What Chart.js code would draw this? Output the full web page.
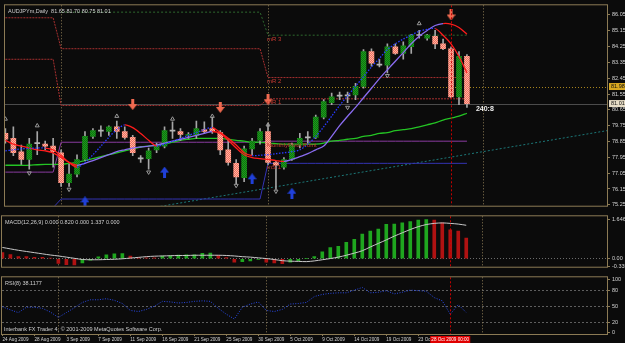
<!DOCTYPE html>
<html>
<head>
<meta charset="utf-8">
<title>AUDJPYm Daily</title>
<script src="https://cdn.jsdelivr.net/npm/chart.js@4.4.1/dist/chart.umd.min.js"></script>
<style>
  html, body { margin: 0; padding: 0; background: #0b0b0b; }
  #wrap { position: relative; width: 625px; height: 343px; overflow: hidden; background: #0b0b0b; }
  #wrap canvas { position: absolute; left: 0; }
</style>
</head>
<body>
<div id="wrap">
  <canvas id="priceChart" width="625" height="211" style="top:0px"></canvas>
  <canvas id="macdChart" width="625" height="61" style="top:211px"></canvas>
  <canvas id="rsiChart" width="625" height="71" style="top:272px"></canvas>
</div>
<script>
// values, one entry per daily bar
var dateTicks = [0, 4, 8, 12, 16, 20, 24, 28, 32, 36, 40, 44, 48, 52];
var dateLabels = ['24 Aug 2009', '28 Aug 2009', '3 Sep 2009', '7 Sep 2009', '11 Sep 2009', '16 Sep 2009', '21 Sep 2009',
  '25 Sep 2009', '30 Sep 2009', '5 Oct 2009', '9 Oct 2009', '14 Oct 2009', '19 Oct 2009', '23 Oct 2009'];
var priceTicks = [86.05, 85.15, 84.25, 83.35, 82.45, 81.55, 80.65, 79.75, 78.85, 77.95, 77.05, 76.15, 75.25];
var macdTicks = [1.646, 0, -0.335];
var macdTickLabels = ['1.646', '0.00', '-0.335'];
var rsiTicks = [100, 80, 50, 20, 0];
var rsiLevels = [80, 50, 20];

var open = [79.31, 79.03, 78.27, 77.83, 78.76, 78.70, 78.59, 78.21, 76.51, 77.00,
  77.83, 79.14, 79.47, 79.42, 79.69, 79.42, 79.09, 77.88, 77.88, 78.38,
  78.59, 79.47, 79.42, 79.20, 79.20, 79.53, 79.58, 79.36, 78.38, 77.61,
  76.79, 78.43, 78.92, 79.42, 77.66, 77.39, 77.83, 78.65, 79.09, 79.09,
  80.24, 81.06, 81.45, 81.45, 81.50, 81.99, 83.97, 83.20, 83.20, 84.24,
  83.86, 84.24, 84.88, 84.73, 84.84, 84.41, 84.13, 81.39, 83.69];
var high = [79.58, 79.69, 78.65, 79.03, 79.42, 78.87, 79.03, 78.38, 77.55, 78.10,
  79.42, 79.58, 79.75, 79.75, 80.02, 79.69, 79.20, 78.05, 78.48, 78.76,
  79.69, 79.97, 79.58, 79.36, 80.02, 79.97, 80.24, 79.47, 78.92, 77.83,
  78.59, 79.03, 79.58, 79.86, 77.72, 77.94, 78.76, 79.31, 79.42, 80.35,
  81.23, 81.61, 81.66, 81.66, 82.16, 84.08, 84.13, 83.53, 84.41, 84.41,
  84.52, 84.95, 85.17, 84.95, 85.17, 84.68, 84.24, 83.97, 83.80];
var low = [78.76, 78.05, 77.55, 77.28, 78.10, 78.38, 77.39, 76.29, 76.29, 76.84,
  77.77, 79.03, 79.14, 79.20, 79.03, 78.98, 78.05, 77.66, 77.28, 78.21,
  78.48, 79.03, 78.92, 79.03, 79.03, 79.31, 79.31, 78.10, 77.50, 76.46,
  76.57, 78.10, 78.70, 77.55, 76.13, 77.28, 77.77, 78.48, 78.76, 79.03,
  80.13, 80.95, 81.23, 81.06, 81.23, 81.88, 83.14, 83.09, 82.76, 83.80,
  83.53, 83.86, 84.73, 84.62, 84.13, 84.08, 81.34, 80.95, 80.79];
var close = [78.98, 78.21, 77.83, 78.70, 78.73, 78.59, 78.27, 76.51, 77.00, 77.83,
  79.14, 79.47, 79.44, 79.69, 79.42, 79.09, 78.21, 77.86, 78.32, 78.59,
  79.47, 79.44, 79.25, 79.25, 79.58, 79.42, 79.42, 78.38, 77.66, 76.84,
  78.43, 78.87, 79.42, 77.66, 77.50, 77.83, 78.65, 79.03, 79.06, 80.24,
  81.12, 81.39, 81.43, 81.47, 81.99, 83.97, 83.31, 83.23, 84.24, 83.86,
  84.30, 84.90, 84.90, 84.90, 84.41, 84.13, 81.39, 83.69, 81.01];

var fastLine = [78.32, 78.38, 78.43, 78.46, 78.48, 78.48, 78.38, 78.05, 77.66, 77.39,
  77.66, 78.10, 78.59, 79.09, 79.53, 79.80, 79.64, 79.31, 78.92, 78.59,
  78.70, 78.87, 79.03, 79.20, 79.36, 79.53, 79.64, 79.36, 79.03, 78.65,
  78.21, 78.05, 78.07, 78.10, 78.16, 78.21, 78.27, 78.38, 78.70, 79.14,
  79.69, 80.29, 80.90, 81.45, 81.99, 82.54, 83.09, 83.58, 84.08, 84.41,
  84.68, 84.90, 85.12, 85.23, 85.28, 84.90, 84.41, 83.69, 82.76];
var slowLine = [78.92, 78.70, 78.59, 78.48, 78.38, 78.32, 78.21, 77.94, 77.66, 77.50,
  77.61, 77.77, 77.94, 78.10, 78.27, 78.38, 78.48, 78.54, 78.59, 78.65,
  78.76, 78.87, 78.98, 79.09, 79.20, 79.31, 79.42, 79.31, 78.92, 78.48,
  78.10, 77.94, 77.88, 77.83, 77.77, 77.72, 77.83, 77.99, 78.16, 78.38,
  78.59, 79.14, 79.75, 80.29, 80.79, 81.34, 81.88, 82.43, 82.93, 83.42,
  83.91, 84.41, 84.84, 85.17, 85.45, 85.56, 85.53, 85.34, 84.95];
var longMA = [77.50, 77.50, 77.50, 77.50, 77.53, 77.55, 77.55, 77.55, 77.61, 77.66,
  77.77, 77.88, 77.99, 78.10, 78.21, 78.32, 78.43, 78.54, 78.59, 78.65,
  78.70, 78.81, 78.92, 78.98, 79.03, 79.03, 79.03, 79.03, 78.98, 78.92,
  78.87, 78.81, 78.81, 78.76, 78.73, 78.70, 78.70, 78.70, 78.70, 78.70,
  78.76, 78.87, 78.92, 78.98, 79.03, 79.14, 79.20, 79.31, 79.36, 79.47,
  79.53, 79.58, 79.69, 79.80, 79.91, 80.07, 80.18, 80.29, 80.46];

// monthly pivot levels: August, September, October
var monthStart = [0, 7, 33];
var pivotR3 = [null, 86.21, 84.90];
var pivotR2 = [85.89, 84.13, 82.49];
var pivotR1 = [83.53, 80.90, 81.28];
var pivotPP = [77.11, 78.81, 78.87];
var pivotS1 = [75.09, 75.58, 77.61];
var pivotNames = ['mR 3', 'mR 2', 'mR 1', 'MonthlyPivot Point', 'mS 1'];

var trendX = [18, 75.6];
var trendY = [75.05, 79.47];

var upFractalBars = [0, 4, 14, 21, 26, 33, 52];
var upFractalPrices = [80.13, 79.75, 80.29, 80.13, 80.29, 79.80, 85.56];
var downFractalBars = [3, 8, 18, 29, 34, 43, 48];
var downFractalPrices = [77.06, 76.13, 77.11, 76.35, 76.02, 80.79, 82.60];
var sellBars = [16, 27, 33, 56];
var sellPrices = [80.95, 80.79, 81.23, 86.05];
var buyBars = [10, 20, 31, 36];
var buyPrices = [75.42, 77.11, 76.73, 75.91];

var bidPrice = 81.01;
var markPrice = 81.98;
var separators = [7, 33, 60];
var crossBar = 56;

var macdHist = [0.26, 0.18, 0.09, 0.09, 0.06, 0.06, 0.03, -0.20, -0.25, -0.26,
  -0.18, -0.06, 0.08, 0.17, 0.21, 0.22, 0.12, 0.05, 0.045, 0.04,
  0.12, 0.13, 0.16, 0.165, 0.17, 0.23, 0.24, 0.14, 0.05, -0.14,
  -0.12, -0.09, -0.03, -0.14, -0.18, -0.21, -0.14, -0.08, 0.02, 0.09,
  0.29, 0.47, 0.53, 0.70, 0.82, 1.05, 1.17, 1.26, 1.46, 1.47,
  1.52, 1.58, 1.64, 1.66, 1.64, 1.52, 1.23, 1.17, 0.88];
var macdSignal = [0.48, 0.42, 0.36, 0.31, 0.26, 0.21, 0.16, 0.12, 0.07, 0.02,
  -0.03, -0.04, -0.04, -0.03, -0.02, 0.00, 0.03, 0.06, 0.09, 0.11,
  0.12, 0.13, 0.14, 0.14, 0.15, 0.15, 0.15, 0.15, 0.14, 0.12,
  0.09, 0.07, 0.04, 0.01, -0.03, -0.08, -0.10, -0.11, -0.12, -0.09,
  -0.04, 0.01, 0.07, 0.15, 0.24, 0.34, 0.50, 0.65, 0.80, 0.96,
  1.10, 1.24, 1.36, 1.45, 1.50, 1.52, 1.50, 1.47, 1.42];
var rsi = [49, 43, 38, 48, 48, 46, 39, 29, 38, 47,
  57, 62, 62, 64, 61, 55, 42, 40, 44, 50,
  59, 58, 56, 57, 59, 60, 59, 46, 35, 26,
  48, 54, 58, 42, 40, 44, 54, 55, 57, 68,
  72, 74, 75, 75, 80, 85, 75, 76, 79, 73,
  76, 80, 79, 78, 66, 60, 35, 53, 38.12];

var TAN = '#8c7b55';
var FONT = '"Liberation Sans", Arial, sans-serif';
var NARROW = '"Liberation Sans Narrow", "Liberation Sans", Arial, sans-serif';
Chart.defaults.font.family = FONT;
Chart.defaults.font.size = 5.5;
Chart.defaults.color = '#d4d4d4';

var bars = open.map(function (_, i) { return i; });
function xy(arr) { return arr.map(function (v, i) { return { x: i, y: v }; }); }
function monthOf(i) {
  var m = 0;
  monthStart.forEach(function (s, k) { if (i >= s) m = k; });
  return m;
}
function levelSeries(lv) { return bars.map(function (i) { return { x: i, y: lv[monthOf(i)] }; }); }
function points(xs, ys) { return xs.map(function (v, k) { return { x: v, y: ys[k] }; }); }

// checkered fill like the original bodies
var ctxMain = document.getElementById('priceChart').getContext('2d');
function checker(c1, c2) {
  var t = document.createElement('canvas');
  t.width = 2; t.height = 2;
  var g = t.getContext('2d');
  g.fillStyle = c1; g.fillRect(0, 0, 2, 2);
  g.fillStyle = c2; g.fillRect(0, 0, 1, 1); g.fillRect(1, 1, 1, 1);
  return ctxMain.createPattern(t, 'repeat');
}
var bullFill = checker('#1c9c1c', '#0f7010');
var bearFill = checker('#f2705e', '#ffb3a3');

function arrowIcon(color, down) {
  var c = document.createElement('canvas');
  c.width = 9; c.height = 11;
  var g = c.getContext('2d');
  g.fillStyle = color;
  g.beginPath();
  if (down) {
    g.fillRect(3, 0, 3, 6);
    g.moveTo(0, 5); g.lineTo(9, 5); g.lineTo(4.5, 11);
  } else {
    g.fillRect(3, 5, 3, 6);
    g.moveTo(0, 6); g.lineTo(9, 6); g.lineTo(4.5, 0);
  }
  g.fill();
  return c;
}

function xScale(show) {
  var s = {
    type: 'linear', min: -0.05, max: 75.6, offset: false, display: show,
    grid: { drawOnChartArea: false, tickLength: 2, tickColor: TAN },
    border: { display: false }
  };
  if (show) {
    s.afterFit = function (sc) { sc.height = 9; };
    s.afterBuildTicks = function (sc) { sc.ticks = dateTicks.map(function (v) { return { value: v }; }); };
    s.ticks = { autoSkip: false, maxRotation: 0, align: 'start', padding: 1,
      font: { family: NARROW, size: 4.6 },
      callback: function (v, i) { return dateLabels[i]; } };
  }
  return s;
}

var panelFrame = {
  id: 'panelFrame',
  beforeDatasetsDraw: function (chart) {
    var ctx = chart.ctx, a = chart.chartArea, x = chart.scales.x;
    ctx.save();
    ctx.lineWidth = 1;
    ctx.strokeStyle = TAN;
    ctx.setLineDash([1, 2]);
    separators.forEach(function (s) {
      var px = Math.round(x.getPixelForValue(s)) + 0.5;
      ctx.beginPath(); ctx.moveTo(px, a.top); ctx.lineTo(px, a.bottom); ctx.stroke();
    });
    ctx.restore();
  },
  afterDraw: function (chart, args, opts) {
    var ctx = chart.ctx, a = chart.chartArea, x = chart.scales.x;
    ctx.save();
    ctx.lineWidth = 1;
    ctx.strokeStyle = '#c40000';
    ctx.setLineDash([2, 2]);
    var cx = Math.round(x.getPixelForValue(crossBar)) + 0.5;
    ctx.beginPath(); ctx.moveTo(cx, a.top); ctx.lineTo(cx, a.bottom); ctx.stroke();
    ctx.setLineDash([]);
    ctx.strokeStyle = TAN;
    ctx.strokeRect(a.left - 0.5, a.top - 0.5, a.right - a.left + 1, a.bottom - a.top + 1);
    if (opts.title) {
      ctx.fillStyle = '#cfcfcf';
      ctx.font = '5.5px ' + FONT;
      ctx.textBaseline = 'top';
      ctx.fillText(opts.title, a.left + 3, a.top + 3);
    }
    ctx.restore();
  }
};

var priceDecor = {
  id: 'priceDecor',
  beforeDatasetsDraw: function (chart) {
    var ctx = chart.ctx, a = chart.chartArea, y = chart.scales.y;
    ctx.save();
    ctx.lineWidth = 1;
    var my = Math.round(y.getPixelForValue(markPrice)) + 0.5;
    ctx.strokeStyle = '#a8841c';
    ctx.setLineDash([1, 2]);
    ctx.beginPath(); ctx.moveTo(a.left, my); ctx.lineTo(a.right, my); ctx.stroke();
    var by = Math.round(y.getPixelForValue(bidPrice)) + 0.5;
    ctx.strokeStyle = '#4c4c4c';
    ctx.setLineDash([]);
    ctx.beginPath(); ctx.moveTo(a.left, by); ctx.lineTo(a.right, by); ctx.stroke();
    ctx.restore();
  },
  afterDraw: function (chart) {
    var ctx = chart.ctx, a = chart.chartArea, x = chart.scales.x, y = chart.scales.y;
    ctx.save();
    // pivot names at the start of October
    var octLevels = [pivotR3[2], pivotR2[2], pivotR1[2], pivotPP[2], pivotS1[2]];
    var lx = x.getPixelForValue(monthStart[2]) - 1;
    ctx.font = '6px ' + FONT;
    ctx.textBaseline = 'middle';
    ctx.fillStyle = '#c83a32';
    octLevels.forEach(function (v, k) {
      ctx.fillText(pivotNames[k], lx, y.getPixelForValue(v) + 4);
    });
    // bar timer
    ctx.font = 'bold 7px ' + FONT;
    ctx.fillStyle = '#f0f0f0';
    ctx.fillText('240:8', x.getPixelForValue(open.length - 1) + 9, y.getPixelForValue(bidPrice) + 5);
    // price boxes on the axis
    [[markPrice, '#d8a820'], [bidPrice, '#e6dcc6']].forEach(function (b) {
      var py = y.getPixelForValue(b[0]);
      ctx.fillStyle = b[1];
      ctx.fillRect(a.right + 2, py - 3.5, 16, 7);
      ctx.fillStyle = '#111';
      ctx.font = '5.5px ' + FONT;
      ctx.fillText(b[0].toFixed(2), a.right + 4, py);
    });
    ctx.restore();
  }
};

var rsiDecor = {
  id: 'rsiDecor',
  afterDraw: function (chart) {
    var ctx = chart.ctx, a = chart.chartArea, x = chart.scales.x;
    ctx.save();
    ctx.font = '5.5px ' + FONT;
    ctx.textBaseline = 'middle';
    ctx.fillStyle = '#cfcfcf';
    ctx.fillText('Interbank FX Trader 4, \u00a9 2001-2009 MetaQuotes Software Corp.', a.left + 2, a.bottom - 5);
    var cx = x.getPixelForValue(crossBar);
    ctx.fillStyle = '#e00000';
    ctx.fillRect(cx - 20, a.bottom + 2, 40, 7);
    ctx.fillStyle = '#ffffff';
    ctx.textAlign = 'center';
    ctx.font = '4.6px ' + NARROW;
    ctx.fillText('28 Oct 2009 00:00', cx, a.bottom + 5.5);
    ctx.restore();
  }
};

var redDown = arrowIcon('#f06a50', true);
var blueUp = arrowIcon('#2040d8', false);

function dirLine(data, upColor, width, dashUp, order) {
  return {
    type: 'line', data: data, borderWidth: width, pointRadius: 0, tension: 0.3, order: order,
    borderColor: upColor,
    segment: {
      borderColor: function (c) { return c.p1.parsed.y < c.p0.parsed.y ? '#ff1c1c' : upColor; },
      borderDash: function (c) { return c.p1.parsed.y < c.p0.parsed.y ? [] : dashUp; }
    }
  };
}
function levelLine(lv, color, dash) {
  return { type: 'line', data: levelSeries(lv), borderColor: color, borderWidth: 1, borderDash: dash,
    pointRadius: 0, tension: 0, order: 10 };
}

new Chart(ctxMain, {
  type: 'bar',
  data: {
    datasets: [
      levelLine(pivotR3, '#2f6a2f', [2, 2]),
      levelLine(pivotR2, '#a83030', [2, 1]),
      levelLine(pivotR1, '#a83030', [2, 1]),
      levelLine(pivotPP, '#8a3ca0', []),
      levelLine(pivotS1, '#3434b4', []),
      { type: 'line', data: points(trendX, trendY), borderColor: '#1d7878', borderWidth: 1, borderDash: [2, 2],
        pointRadius: 0, order: 10 },
      { type: 'line', data: xy(longMA), borderColor: '#24c424', borderWidth: 1.3, pointRadius: 0, tension: 0.3, order: 8 },
      { type: 'bar', data: bars.map(function (i) { return { x: i, y: [low[i], high[i]] }; }),
        backgroundColor: '#a6a6a6', barThickness: 1, grouped: false, order: 6 },
      { type: 'bar', data: bars.map(function (i) { return { x: i, y: [open[i], close[i]] }; }),
        backgroundColor: bars.map(function (i) {
          if (Math.abs(close[i] - open[i]) < 0.035) return '#b4b4b4';
          return close[i] > open[i] ? bullFill : bearFill;
        }),
        barThickness: 5, grouped: false, minBarLength: 1, order: 5 },
      dirLine(xy(slowLine), '#8a6cf0', 1.3, [], 3),
      dirLine(xy(fastLine), '#2a3cff', 1.3, [1.5, 1.5], 2),
      { type: 'scatter', data: points(upFractalBars, upFractalPrices), pointStyle: 'triangle', pointRadius: 2.3,
        borderColor: '#9a9a9a', backgroundColor: 'rgba(0,0,0,0)', borderWidth: 1, order: 1 },
      { type: 'scatter', data: points(downFractalBars, downFractalPrices), pointStyle: 'triangle', rotation: 180,
        pointRadius: 2.3, borderColor: '#9a9a9a', backgroundColor: 'rgba(0,0,0,0)', borderWidth: 1, order: 1 },
      { type: 'scatter', data: points(sellBars, sellPrices), pointStyle: redDown, order: 1 },
      { type: 'scatter', data: points(buyBars, buyPrices), pointStyle: blueUp, order: 1 }
    ]
  },
  options: {
    responsive: false, animation: false, devicePixelRatio: 1,
    layout: { padding: { left: 2, top: 2, right: 0, bottom: 1 } },
    plugins: { legend: { display: false }, tooltip: { enabled: false },
      panelFrame: { title: 'AUDJPYm,Daily  81.65 81.70 80.75 81.01' } },
    scales: {
      x: xScale(false),
      y: {
        position: 'right', min: 75.2, max: 86.6,
        afterFit: function (s) { s.width = 18; },
        afterBuildTicks: function (s) { s.ticks = priceTicks.map(function (v) { return { value: v }; }); },
        ticks: { autoSkip: false, padding: 2, callback: function (v) { return v.toFixed(2); } },
        grid: { drawOnChartArea: false, tickLength: 3, tickColor: TAN },
        border: { display: false }
      }
    }
  },
  plugins: [panelFrame, priceDecor]
});

new Chart(document.getElementById('macdChart'), {
  type: 'bar',
  data: {
    datasets: [
      { type: 'line', data: xy(macdSignal), borderColor: '#c8c8c8', borderWidth: 1, pointRadius: 0, tension: 0.3, order: 1 },
      { type: 'bar', data: xy(macdHist), barThickness: 3, grouped: false, order: 2,
        backgroundColor: macdHist.map(function (v, i) { return i > 0 && v > macdHist[i - 1] ? '#1fa61f' : '#b01212'; }) }
    ]
  },
  options: {
    responsive: false, animation: false, devicePixelRatio: 1,
    layout: { padding: { left: 2, top: 1, right: 0, bottom: 1 } },
    plugins: { legend: { display: false }, tooltip: { enabled: false },
      panelFrame: { title: 'MACD(12,26,9) 0.000 0.820 0.000 1.337 0.000' } },
    scales: {
      x: xScale(false),
      y: {
        position: 'right', min: -0.335, max: 1.8,
        afterFit: function (s) { s.width = 18; },
        afterBuildTicks: function (s) { s.ticks = macdTicks.map(function (v) { return { value: v }; }); },
        ticks: { autoSkip: false, padding: 2, callback: function (v, i) { return macdTickLabels[i]; } },
        grid: { drawOnChartArea: true, tickLength: 3, tickColor: TAN,
          color: function (c) { return c.tick && c.tick.value === 0 ? '#6c6c6c' : 'rgba(0,0,0,0)'; } },
        border: { display: false, dash: [1, 2] }
      }
    }
  },
  plugins: [panelFrame]
});

new Chart(document.getElementById('rsiChart'), {
  type: 'line',
  data: {
    datasets: [
      { data: xy(rsi), borderColor: '#2a4ae6', borderWidth: 1, borderDash: [1, 1.5], pointRadius: 0, tension: 0 }
    ]
  },
  options: {
    responsive: false, animation: false, devicePixelRatio: 1,
    layout: { padding: { left: 2, top: 1, right: 0, bottom: 0 } },
    plugins: { legend: { display: false }, tooltip: { enabled: false },
      panelFrame: { title: 'RSI(8) 38.1177' } },
    scales: {
      x: xScale(true),
      y: {
        position: 'right', min: -2, max: 104,
        afterFit: function (s) { s.width = 18; },
        afterBuildTicks: function (s) { s.ticks = rsiTicks.map(function (v) { return { value: v }; }); },
        ticks: { autoSkip: false, padding: 2 },
        grid: { drawOnChartArea: true, tickLength: 3, tickColor: TAN,
          color: function (c) { return c.tick && rsiLevels.indexOf(c.tick.value) >= 0 ? '#5e5e5e' : 'rgba(0,0,0,0)'; } },
        border: { display: false, dash: [2, 2] }
      }
    }
  },
  plugins: [panelFrame, rsiDecor]
});
</script>
</body>
</html>
